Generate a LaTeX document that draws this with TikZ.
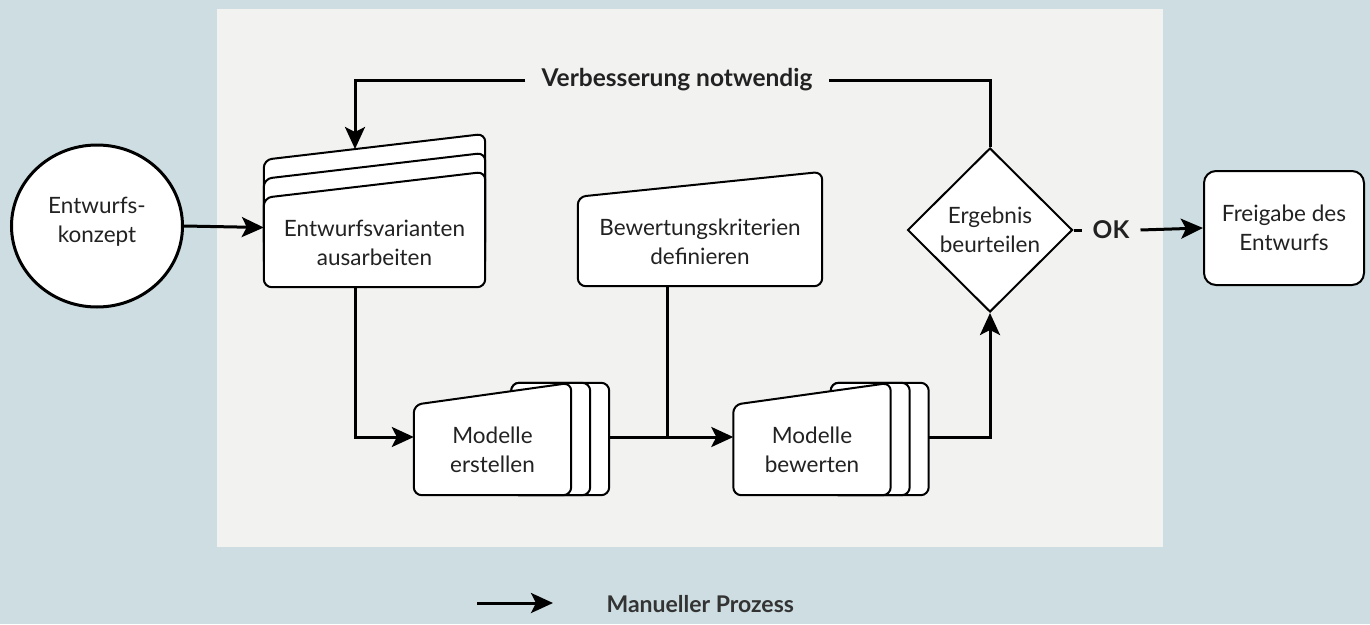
\documentclass[tikz,border=0pt]{standalone}
\usepackage{fontspec}
\setmainfont{Lato}
\usetikzlibrary{shapes.geometric,arrows.meta,calc}
\definecolor{bgblue}{HTML}{CDDDE2}
\definecolor{panelgray}{HTML}{F2F2F1}
\definecolor{ink}{HTML}{222222}
\definecolor{legendink}{HTML}{333333}

\begin{document}
\begin{tikzpicture}[x=1pt,y=-1pt,
  flow/.style={line width=3pt,-{Stealth[length=22pt,width=20pt,inset=5pt]}},
  plain/.style={line width=3pt},
  card/.style={draw=black,fill=white,line width=2pt,rounded corners=8pt},
  lbl/.style={font=\fontsize{22.5}{29}\selectfont,text=ink,align=center},
  body/.style={inner sep=0pt,draw=none},
  tag/.style={font=\bfseries\fontsize{24.5}{28}\selectfont,text=ink,inner ysep=2pt}
]
% canvas and working area
\useasboundingbox (0,0) rectangle (1370,624);
\fill[bgblue] (0,0) rectangle (1370,624);
\fill[panelgray] (217,9) rectangle (1163,547);

% start concept
\node[ellipse,draw=black,fill=white,line width=3pt,minimum width=171pt,
      minimum height=162pt,inner sep=0pt] (konzept) at (97,226) {};
\node[lbl] at ($(konzept)+(0,-4)$) {Entwurfs-\\konzept};

% variants (stacked cards with slanted top)
\node[body,minimum width=221pt,minimum height=89pt] (aus) at (374.5,242.5) {};
\foreach \s in {-38,-19,0}{
  \draw[card] ($(aus.south west)+(0,\s)$) -- ($(aus.north west)+(0,\s)$)
    -- ($(aus.north east)+(0,\s-26)$) -- ($(aus.south east)+(0,\s)$) -- cycle;
}
\node[lbl] at (aus) {Entwurfsvarianten\\ausarbeiten};

% evaluation criteria
\node[body,minimum width=244pt,minimum height=89pt] (bew) at (700,241.5) {};
\draw[card] (bew.south west) -- (bew.north west)
  -- ($(bew.north east)+(0,-25)$) -- (bew.south east) -- cycle;
\node[lbl] at (bew) {Bewertungskriterien\\definieren};

% model stacks
\foreach \nm/\cx/\txt in {me/492.5/{Modelle\\erstellen},mb/812/{Modelle\\bewerten}}{
  \node[body,minimum width=157pt,minimum height=90pt] (\nm) at (\cx,450) {};
  \foreach \dx in {38,19}{
    \draw[card] ($(\nm.north east)+(-60,-22)$) rectangle ($(\nm.south east)+(\dx,0)$);
  }
  \draw[card] (\nm.south west) -- (\nm.north west)
    -- ($(\nm.north east)+(0,-22)$) -- (\nm.south east) -- cycle;
  \node[lbl] at (\nm) {\txt};
}

% decision
\node[diamond,draw=black,fill=white,line width=2pt,minimum width=165pt,
      minimum height=164pt,inner sep=0pt,lbl] (dia) at (990,230) {Ergebnis\\beurteilen};

% release
\node[draw=black,fill=white,line width=2pt,rounded corners=12pt,
      minimum width=160pt,minimum height=114pt,lbl] (frei) at (1284,228) {Freigabe des\\Entwurfs};

% connection points on the card outlines
\coordinate (aus-in)  at ($(aus.west)+(0,-15)$);
\coordinate (aus-top) at (355,149);
\coordinate (aus-out) at ($(aus.south)+(-19.5,0)$);
\coordinate (bew-out) at ($(bew.south)+(-33,0)$);
\coordinate (me-in)   at ($(me.west)+(0,-13)$);
\coordinate (me-out)  at ($(me.east)+(38,-13)$);
\coordinate (mb-in)   at ($(mb.west)+(0,-13)$);
\coordinate (mb-out)  at ($(mb.east)+(38,-13)$);

% flow
\draw[flow] (konzept.east) -- (aus-in);
\draw[flow] (aus-out) |- (me-in);
\draw[flow] (me-out) -- (mb-in);
\draw[plain] (bew-out) -- (bew-out |- mb-in);
\draw[flow] (mb-out) -| (dia.south);

% feedback loop
\node[tag,inner xsep=16pt] (verb) at (677,80) {Verbesserung notwendig};
\draw[plain] (dia.north) |- (verb.east);
\draw[flow] (verb.west) -| (aus-top);

% approval
\node[tag,inner xsep=11pt] (ok) at (1111,230) {OK};
\draw[plain] (dia.east) -- (ok.west);
\draw[flow] (ok.east) -- (frei.west);

% legend
\coordinate (leg-a) at (477,603);
\node[font=\bfseries\fontsize{23}{27}\selectfont,text=legendink,anchor=west] (legtxt) at (603,604) {Manueller Prozess};
\draw[flow] (leg-a) -- (553,603);
\end{tikzpicture}
\end{document}
